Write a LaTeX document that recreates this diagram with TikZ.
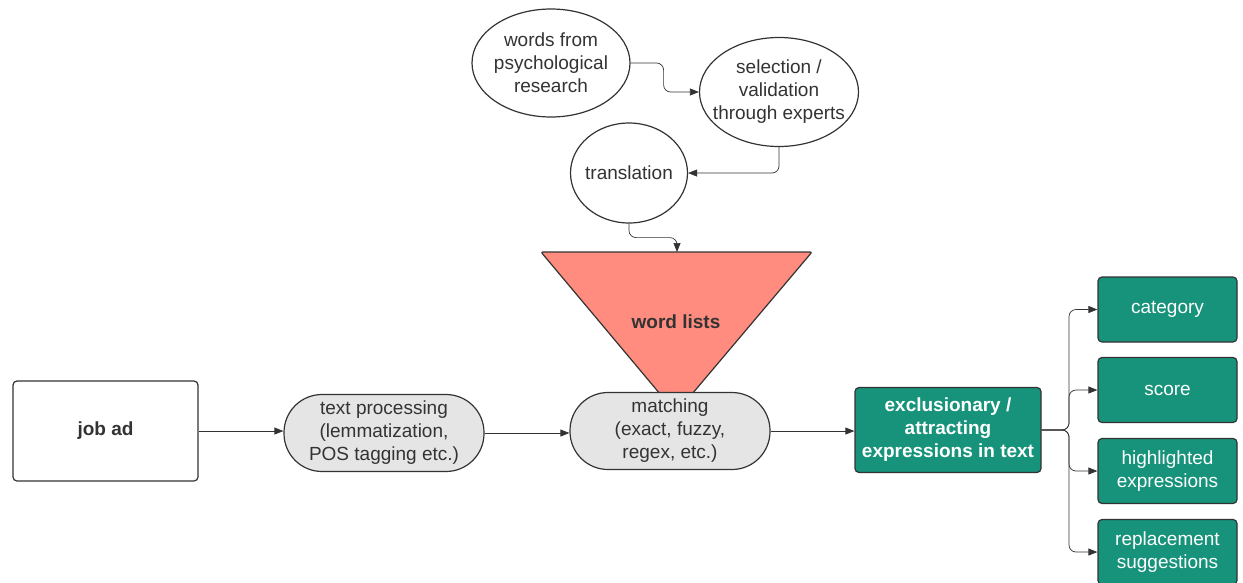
\documentclass[tikz,border=0pt]{standalone}
\usepackage{fontspec}
\setmainfont{Liberation Sans}
\usetikzlibrary{shapes.geometric,arrows.meta}
\definecolor{txt}{HTML}{333333}
\definecolor{pillgray}{HTML}{E5E5E5}
\definecolor{salmon}{HTML}{FF8C7E}
\definecolor{tealbox}{HTML}{16937A}
\begin{document}
\begin{tikzpicture}[x=1pt,y=-1pt,
  font=\fontsize{19}{23}\selectfont, text=txt,
  arr/.style={-{Triangle[length=9pt,width=7pt]}, draw=txt, line width=0.7pt, rounded corners=7pt},
  oval/.style={ellipse, draw=txt, line width=1.2pt, fill=white, inner sep=0pt},
  lbl/.style={align=center, inner sep=0pt},
  pill/.style={rectangle, rounded corners=38pt, draw=txt, line width=1.2pt, fill=pillgray, align=center, minimum width=200pt, minimum height=77pt, inner sep=0pt},
  gbox/.style={rectangle, rounded corners=4pt, draw=txt, line width=1.2pt, fill=tealbox, text=white, align=center, inner sep=0pt},
  obox/.style={gbox, minimum width=139pt, minimum height=65pt}
]
\useasboundingbox (0,0) rectangle (1243,582);

% top ellipses
\node[oval, minimum width=158pt, minimum height=108pt] (words) at (551,63) {};
\node[lbl] (wordsT) at (words) {words from\\psychological\\research};
\node[oval, minimum width=159pt, minimum height=109pt] (sel) at (779,92) {};
\node[lbl] (selT) at (sel) {selection /\\validation\\through experts};
\node[oval, minimum width=117pt, minimum height=100pt] (tr) at (629,173) {};
\node[lbl] (trT) at (tr) {translation};

% word lists triangle
\coordinate (wlTL) at (541,252);
\coordinate (wlTR) at (812,252);
\coordinate (wlTop) at (677,252);
\filldraw[fill=salmon, draw=txt, line width=1.2pt, rounded corners=2pt] (wlTL) -- (wlTR) -- (676,413) -- cycle;
\node[font=\fontsize{19}{23}\selectfont\bfseries] (wl) at (676,322) {word lists};

% main row
\node[rectangle, rounded corners=4pt, draw=txt, line width=1.2pt, fill=white, minimum width=185pt, minimum height=100pt, font=\fontsize{19}{23}\selectfont\bfseries] (job) at (105.5,431) {job ad};
\node[pill] (tp) at (384,433) {text processing\\(lemmatization,\\POS tagging etc.)};
\node[pill] (match) at (670,431) {matching\\(exact, fuzzy,\\regex, etc.)};
\node[gbox, minimum width=186pt, minimum height=85pt, font=\fontsize{19}{23}\selectfont\bfseries] (ex) at (948,430) {exclusionary /\\attracting\\expressions in text};

% outputs
\node[obox] (cat) at (1167.5,309.5) {category};
\node[obox] (score) at (1167.5,390) {score};
\node[obox] (hl) at (1167.5,471) {highlighted\\expressions};
\node[obox] (rep) at (1167.5,552) {replacement\\suggestions};

% connectors
\draw[arr] (words.east) -- ++(33,0) |- (sel.west);
\draw[arr] (sel.south) |- (tr.east);
\draw[arr] (tr.south) -- ++(0,14) -| (wlTop);
\draw[arr] (job.east) -- (job.east -| tp.west);
\draw[arr] (tp.east) -- (tp.east -| match.west);
\draw[arr] (match.east) -- (match.east -| ex.west);
\foreach \b in {cat,score,hl,rep}{
  \draw[arr] (ex.east) -- (1069,430) |- (\b.west);
}
\end{tikzpicture}
\end{document}
